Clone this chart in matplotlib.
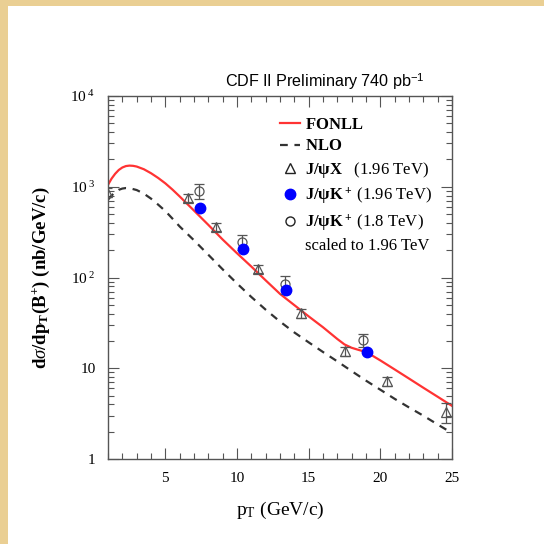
import matplotlib
matplotlib.use('Agg')
import matplotlib.pyplot as plt
from matplotlib.lines import Line2D
from matplotlib.patches import Rectangle
from matplotlib.ticker import FixedLocator, FixedFormatter, MultipleLocator, LogLocator, NullFormatter

plt.rcParams['font.family'] = ['Liberation Serif', 'DejaVu Serif']
plt.rcParams['mathtext.fontset'] = 'custom'
plt.rcParams['mathtext.rm'] = 'Liberation Serif'
plt.rcParams['mathtext.it'] = 'Liberation Serif:italic'
plt.rcParams['mathtext.bf'] = 'Liberation Serif:bold'
plt.rcParams['mathtext.sf'] = 'Liberation Sans'

# theory curves
fonll_pt = [1, 1.25, 1.5, 1.75, 2, 2.25, 2.5, 2.75, 3, 3.5, 4, 4.5, 5, 5.5, 6, 7, 8, 9, 10,
            11, 12, 13, 14, 15, 16, 17, 17.5, 18, 18.5, 19, 19.5, 20, 21, 22, 23, 24, 25]
fonll_xs = [1050, 1230, 1390, 1530, 1630, 1690, 1710, 1700, 1670, 1560, 1410, 1250, 1090, 930,
            782, 546, 380, 262, 185, 132, 93, 66, 49.6, 37.3, 28.3, 21.0, 18.3, 16.8, 15.9,
            15.1, 13.6, 12.2, 9.7, 7.7, 6.1, 4.85, 3.85]

nlo_pt = [1, 1.25, 1.5, 1.75, 2, 2.25, 2.5, 3, 3.5, 4, 4.5, 5, 5.5, 6, 7, 8, 9, 10, 11, 12,
          13, 14, 15, 16, 17, 18, 19, 20, 21, 22, 23, 24, 25]
nlo_xs = [720, 800, 870, 925, 955, 968, 965, 920, 840, 740, 635, 540, 445, 365, 257, 178, 123,
          86, 61, 44.2, 32.7, 24.8, 19.3, 15.1, 11.9, 9.3, 7.3, 5.8, 4.6, 3.7, 3.0, 2.4, 1.93]

# J/psi X (1.96 TeV)
jpsix_pt = [0.9, 6.6, 8.5, 11.5, 14.5, 17.55, 20.5, 24.6]
jpsix_xs = [870, 752, 360, 124, 40.6, 15.5, 7.2, 3.3]
jpsix_err = [90, 75, 36, 12, 4.5, 1.8, 0.9, 0.8]

# J/psi K+ (1.96 TeV)
jpsik_pt = [7.4, 10.4, 13.4, 19.1]
jpsik_xs = [583, 206, 73, 15]

# J/psi K+ (1.8 TeV) scaled to 1.96 TeV
run1_pt = [7.35, 10.35, 13.35, 18.8]
run1_xs = [898, 246, 85, 20.5]
run1_err = [170, 45, 20, 3.5]

fig = plt.figure(figsize=(5.44, 5.44), dpi=100)
fig.patch.set_facecolor('#eacf93')
fig.add_artist(Rectangle((8 / 544, 0), 1, 1 - 6 / 544, transform=fig.transFigure,
                         facecolor='white', edgecolor='none', zorder=-5))

ax = fig.add_axes([108 / 544, 1 - 459 / 544, 344 / 544, 363 / 544])
ax.set_zorder(1)
ax.set_yscale('log')
ax.set_xlim(1, 25)
ax.set_ylim(1, 1e4)

grey = '#555555'
ax.plot(fonll_pt, fonll_xs, color='#ff3333', lw=1.6, label='FONLL')
ax.plot(nlo_pt, nlo_xs, color='#333333', lw=1.6, ls=(0, (3.5, 3)), label='NLO')
ax.errorbar(jpsix_pt, jpsix_xs, yerr=jpsix_err, fmt='^', ms=6.5, mfc='none', mec=grey,
            mew=0.9, ecolor=grey, elinewidth=0.9, capsize=3.5, capthick=0.9)
ax.plot(jpsik_pt, jpsik_xs, 'o', ms=7.5, color='#0000ff', zorder=5)
ax.errorbar(run1_pt, run1_xs, yerr=run1_err, fmt='o', ms=6.5, mfc='none', mec=grey,
            mew=0.9, ecolor=grey, elinewidth=0.9, capsize=3.5, capthick=0.9)

# ticks
ax.xaxis.set_major_locator(MultipleLocator(5))
ax.xaxis.set_minor_locator(MultipleLocator(1))
ax.yaxis.set_major_locator(FixedLocator([1, 10, 100, 1000, 10000]))
ax.yaxis.set_major_formatter(FixedFormatter(['1', '10', r'10$^{\ 2}$', r'10$^{\ 3}$', r'10$^{\ 4}$']))
ax.yaxis.set_minor_locator(LogLocator(base=10, subs=range(2, 10)))
ax.yaxis.set_minor_formatter(NullFormatter())
ax.tick_params(which='both', direction='in', top=True, right=True, color=grey, width=0.8)
ax.tick_params(which='major', length=8, labelsize=11, pad=9)
ax.tick_params(which='minor', length=4)
for s in ax.spines.values():
    s.set_color(grey)
    s.set_linewidth(1.0)

ax.set_xlabel(r'p$_{\rm T}$ (GeV/c)', fontsize=14, labelpad=11)
ax.set_ylabel(r'd$\sigma$/dp$_\mathbf{T}$(B$^\mathbf{+}$) (nb/GeV/c)', fontsize=13.5,
              fontweight='bold', labelpad=13)

ax.text(0.9215, 1.0386, r'CDF II Preliminary 740 pb$^{\mathsf{-1}}$', transform=ax.transAxes,
        ha='right', va='center', fontsize=11.6, family='Liberation Sans')

handles = [
    Line2D([], [], color='#ff3333', lw=1.6),
    Line2D([], [], color='#333333', lw=1.6, ls=(0, (3.5, 3))),
    Line2D([], [], marker='^', ls='none', ms=6.5, mfc='none', mec='#222222', mew=1.0),
    Line2D([], [], marker='o', ls='none', ms=7.5, color='#0000ff'),
    Line2D([], [], marker='o', ls='none', ms=6.5, mfc='none', mec='#222222', mew=1.0),
    Line2D([], [], ls='none'),
]
labels = [
    r'$\mathbf{FONLL}$',
    r'$\mathbf{NLO}$',
    r'$\mathbf{J/ψX}$   (1.96 TeV)',
    r'$\mathbf{J/ψK^+}$ (1.96 TeV)',
    r'$\mathbf{J/ψK^+}$ (1.8 TeV)',
    'scaled to 1.96 TeV',
]
leg = ax.legend(handles, labels, loc='upper left', bbox_to_anchor=(0.5, 0.943),
                frameon=False, fontsize=12, handlelength=1.2, handletextpad=0.3,
                labelspacing=0.34, borderpad=0, borderaxespad=0)

fig.savefig('out.png', dpi=100, facecolor=fig.get_facecolor())
